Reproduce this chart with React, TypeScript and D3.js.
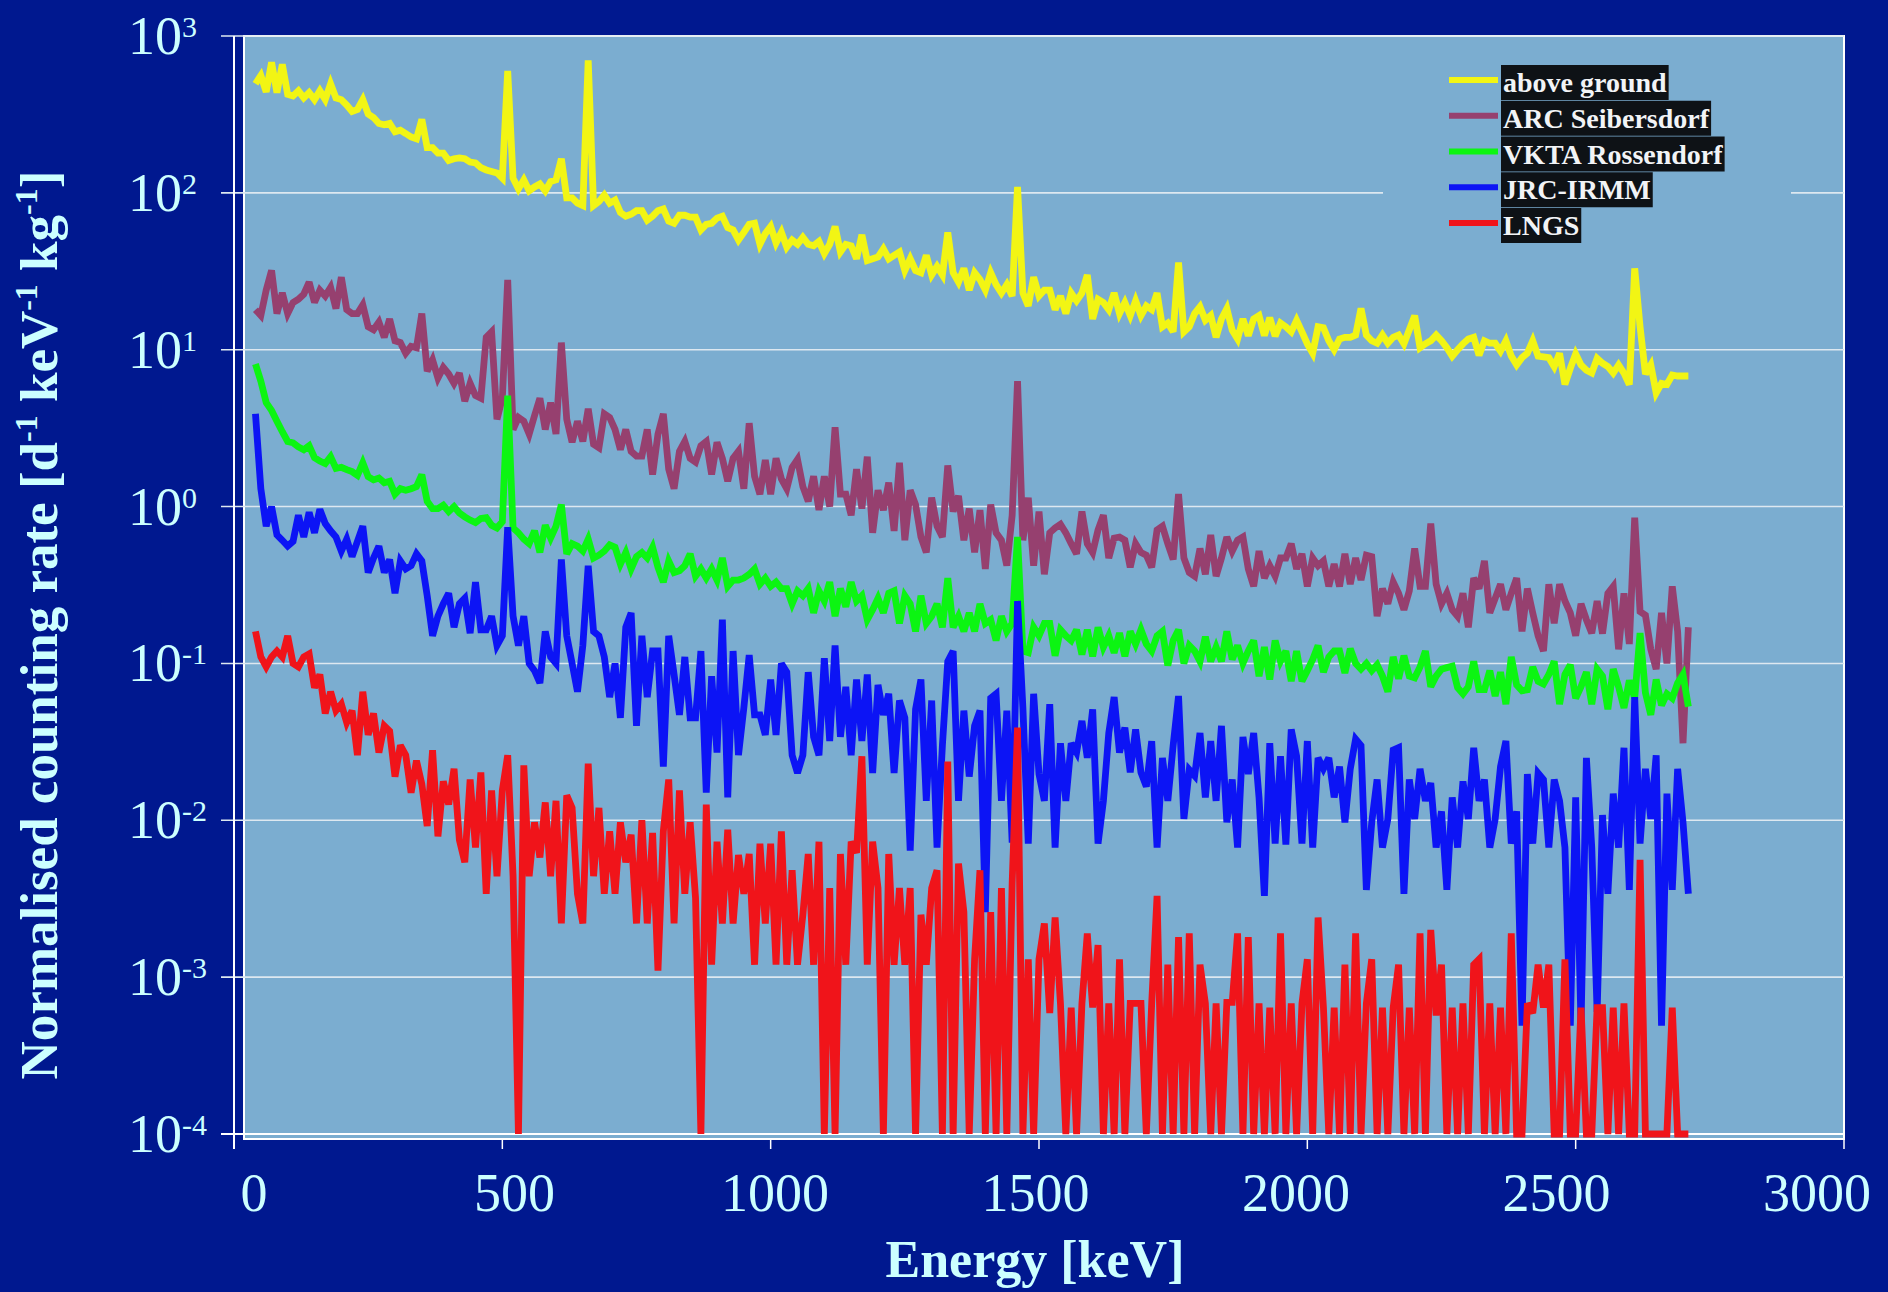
import { useLayoutEffect, useRef, useState } from 'react'
import * as d3 from 'd3'

const W = 1888
const H = 1292

// energy bins, keV (10 keV wide, 40 … 2710)
const energies = d3.range(40, 2711, 10)

const aboveGround = [
  496, 560, 440, 680, 436, 660,
  425, 415, 447, 403, 436, 393, 447, 393, 496, 403,
  393, 363, 330, 340, 393, 318, 302, 277, 272, 277,
  245, 251, 239, 227, 221, 294, 194, 194, 179, 179,
  161, 165, 167, 165, 157, 155, 145, 140, 137, 134,
  124, 600, 124, 106, 121, 103, 109, 114, 103, 118,
  121, 165, 93, 93, 86, 83, 700, 83, 88, 97,
  86, 90, 75, 71, 73, 77, 77, 67, 71, 77,
  79, 66, 64, 72, 72, 70, 70, 58, 63, 64,
  69, 71, 60, 58, 50, 56, 63, 64, 47, 55,
  61, 48, 56, 45, 50, 47, 52, 47, 46, 49,
  41, 47, 61, 42, 47, 46, 38, 54, 37, 38,
  39, 44, 38, 40, 42, 32, 38, 32, 31, 40,
  30, 34, 30, 56, 31, 27, 33, 24, 31, 28,
  24, 31, 26, 23, 26, 22, 109, 23, 19, 29,
  22, 24, 24, 18, 22, 17, 23, 20.5, 23, 30,
  15.7, 21, 20, 18, 23, 17, 20, 16.5, 20.5, 16.5,
  19, 18, 23, 14, 14.8, 13, 36, 13, 14, 17,
  18.8, 15.4, 16.5, 12, 15.7, 18.3, 13.3, 11.7, 15.7, 12.3,
  15.7, 16.5, 12.3, 16, 12.2, 14.8, 14, 13, 15.4, 13,
  10.9, 9.5, 14, 13.8, 11.4, 10, 11.7, 12, 12, 12.4,
  18.3, 12.4, 11.4, 11, 12.4, 11, 12, 12.4, 10.9, 13.4,
  16.5, 10.3, 10.9, 11.4, 12.4, 11.4, 10.3, 9.1, 10, 10.9,
  11.7, 12, 9.2, 11.4, 11, 11, 9.8, 11.4, 9.1, 8,
  8.9, 9.5, 11.4, 9.1, 9, 8.9, 7.8, 9.5, 6, 7.6,
  9.4, 8, 7.4, 7.1, 8.8, 8.2, 7.8, 7.1, 8, 7.1,
  6, 33, 14, 7, 8, 5.3, 6.1, 6, 6.9, 6.8,
  6.8, 6.8,
]

const arcSeibersdorf = [
  18, 16.5, 24, 32, 17, 23,
  17, 20, 21, 22.6, 27, 20, 24, 22, 25, 18.3,
  29, 18, 17, 17, 19.3, 14, 13.4, 15, 12, 15.7,
  11.4, 11.1, 9.5, 10.5, 10.3, 17, 7.3, 8.6, 6.6, 7.7,
  7, 6.1, 7.1, 4.7, 6.1, 5.1, 4.9, 12, 13, 3.6,
  4.9, 27.9, 3.1, 3.7, 3.5, 2.9, 3.8, 4.9, 3.1, 4.6,
  2.9, 11.1, 3.6, 2.57, 3.5, 2.6, 4.2, 2.5, 2.37, 3.9,
  3.7, 3.1, 2.31, 3.1, 2.25, 2.1, 2.1, 3.1, 1.6, 2.9,
  3.9, 1.73, 1.3, 2.25, 2.6, 2.03, 1.92, 2.44, 2.6, 1.6,
  2.57, 2.03, 1.45, 2.03, 2.25, 1.3, 3.4, 1.56, 1.2, 1.98,
  1.2, 2.03, 1.5, 1.3, 1.78, 2.0, 1.34, 1.08, 1.56, 0.95,
  1.56, 1.0, 3.2, 1.2, 1.2, 0.88, 1.73, 0.97, 2.08, 0.68,
  1.27, 0.95, 1.42, 0.7, 1.9, 0.61, 1.27, 1.03, 0.64, 0.51,
  1.14, 0.75, 0.64, 1.83, 0.93, 1.17, 0.61, 0.97, 0.51, 0.95,
  0.4, 1.03, 0.68, 0.61, 0.42, 0.88, 6.3, 0.61, 1.14, 0.42,
  0.93, 0.37, 0.68, 0.73, 0.77, 0.68, 0.58, 0.5, 0.93, 0.58,
  0.51, 0.71, 0.88, 0.47, 0.63, 0.64, 0.61, 0.41, 0.58, 0.51,
  0.49, 0.41, 0.71, 0.75, 0.58, 0.46, 1.2, 0.47, 0.38, 0.36,
  0.54, 0.37, 0.66, 0.36, 0.47, 0.64, 0.52, 0.61, 0.64, 0.4,
  0.31, 0.52, 0.35, 0.42, 0.36, 0.47, 0.47, 0.58, 0.4, 0.5,
  0.31, 0.47, 0.42, 0.45, 0.31, 0.43, 0.31, 0.5, 0.32, 0.47,
  0.34, 0.49, 0.48, 0.2, 0.3, 0.24, 0.33, 0.28, 0.22, 0.29,
  0.54, 0.31, 0.31, 0.78, 0.32, 0.24, 0.28, 0.22, 0.2, 0.28,
  0.17, 0.35, 0.3, 0.45, 0.21, 0.26, 0.32, 0.22, 0.28, 0.35,
  0.16, 0.3, 0.21, 0.15, 0.12, 0.32, 0.18, 0.32, 0.25, 0.21,
  0.15, 0.24, 0.19, 0.156, 0.25, 0.155, 0.28, 0.31, 0.123, 0.28,
  0.133, 0.85, 0.214, 0.203, 0.123, 0.092, 0.21, 0.1, 0.31, 0.16,
  0.031, 0.17,
]

const vktaRossendorf = [
  8.1, 6.3, 4.6, 4.1, 3.5, 3.0,
  2.6, 2.55, 2.4, 2.3, 2.44, 2.05, 1.95, 1.88, 2.08, 1.75,
  1.78, 1.72, 1.67, 1.58, 1.9, 1.55, 1.48, 1.52, 1.42, 1.45,
  1.2, 1.3, 1.27, 1.3, 1.34, 1.6, 1.08, 0.97, 0.97, 1.02,
  0.93, 1.0, 0.91, 0.86, 0.82, 0.79, 0.84, 0.85, 0.76, 0.73,
  0.8, 5.1, 0.73, 0.68, 0.62, 0.58, 0.7, 0.51, 0.76, 0.63,
  0.75, 1.03, 0.5, 0.58, 0.56, 0.52, 0.62, 0.47, 0.49, 0.52,
  0.57, 0.55, 0.43, 0.51, 0.4, 0.48, 0.51, 0.47, 0.55, 0.41,
  0.33, 0.45, 0.38, 0.39, 0.42, 0.5, 0.36, 0.4, 0.35, 0.4,
  0.34, 0.47, 0.31, 0.34, 0.34, 0.35, 0.37, 0.4, 0.32, 0.35,
  0.31, 0.33, 0.3, 0.3, 0.24, 0.29, 0.27, 0.3, 0.21, 0.29,
  0.25, 0.33, 0.2, 0.3, 0.23, 0.33, 0.25, 0.27, 0.19, 0.22,
  0.26, 0.21, 0.28, 0.29, 0.18, 0.27, 0.24, 0.16, 0.27, 0.18,
  0.2, 0.24, 0.17, 0.35, 0.17, 0.2, 0.16, 0.21, 0.16, 0.24,
  0.18, 0.19, 0.14, 0.2, 0.16, 0.18, 0.64, 0.12, 0.117, 0.17,
  0.15, 0.18, 0.18, 0.112, 0.164, 0.15, 0.14, 0.164, 0.114, 0.164,
  0.111, 0.17, 0.127, 0.15, 0.117, 0.156, 0.111, 0.16, 0.133, 0.164,
  0.133, 0.12, 0.15, 0.16, 0.097, 0.14, 0.164, 0.1, 0.13, 0.12,
  0.103, 0.148, 0.103, 0.127, 0.103, 0.16, 0.106, 0.13, 0.1, 0.12,
  0.14, 0.083, 0.127, 0.079, 0.14, 0.103, 0.12, 0.077, 0.12, 0.077,
  0.09, 0.106, 0.13, 0.088, 0.11, 0.12, 0.12, 0.087, 0.124, 0.1,
  0.092, 0.1, 0.09, 0.098, 0.083, 0.066, 0.11, 0.08, 0.112, 0.083,
  0.081, 0.095, 0.12, 0.071, 0.083, 0.092, 0.094, 0.096, 0.07, 0.064,
  0.071, 0.103, 0.068, 0.068, 0.09, 0.062, 0.088, 0.055, 0.11, 0.073,
  0.067, 0.068, 0.095, 0.077, 0.074, 0.085, 0.103, 0.055, 0.085, 0.098,
  0.06, 0.071, 0.088, 0.055, 0.092, 0.083, 0.051, 0.092, 0.071, 0.052,
  0.078, 0.06, 0.156, 0.065, 0.047, 0.079, 0.054, 0.064, 0.06, 0.075,
  0.085, 0.053,
]

const jrcIrmm = [
  3.9, 1.3, 0.75, 1.0, 0.66, 0.61,
  0.56, 0.6, 0.88, 0.64, 0.92, 0.68, 0.96, 0.78, 0.7, 0.64,
  0.52, 0.62, 0.48, 0.6, 0.75, 0.38, 0.47, 0.56, 0.38, 0.46,
  0.28, 0.45, 0.4, 0.42, 0.5, 0.45, 0.27, 0.15, 0.2, 0.24,
  0.28, 0.17, 0.24, 0.26, 0.156, 0.33, 0.164, 0.164, 0.2, 0.13,
  0.15, 0.74, 0.2, 0.13, 0.2, 0.1, 0.09, 0.075, 0.16, 0.11,
  0.1, 0.46, 0.15, 0.1, 0.066, 0.13, 0.42, 0.16, 0.15, 0.11,
  0.061, 0.1, 0.045, 0.17, 0.21, 0.04, 0.15, 0.061, 0.12, 0.12,
  0.022, 0.15, 0.085, 0.047, 0.11, 0.045, 0.045, 0.12, 0.015, 0.083,
  0.027, 0.19, 0.014, 0.12, 0.026, 0.052, 0.113, 0.047, 0.047, 0.035,
  0.079, 0.035, 0.1, 0.088, 0.026, 0.02, 0.026, 0.088, 0.034, 0.026,
  0.108, 0.032, 0.13, 0.034, 0.071, 0.026, 0.079, 0.032, 0.085, 0.02,
  0.073, 0.047, 0.064, 0.02, 0.058, 0.045, 0.0064, 0.051, 0.079, 0.0133,
  0.058, 0.0067, 0.03, 0.103, 0.12, 0.0133, 0.05, 0.019, 0.04, 0.05,
  0.0026, 0.06, 0.064, 0.0133, 0.05, 0.0072, 0.25, 0.052, 0.0071, 0.064,
  0.0197, 0.0133, 0.055, 0.0067, 0.031, 0.0133, 0.031, 0.027, 0.043, 0.025,
  0.051, 0.0071, 0.0133, 0.036, 0.061, 0.027, 0.039, 0.0202, 0.038, 0.0202,
  0.0164, 0.032, 0.0067, 0.025, 0.0133, 0.03, 0.062, 0.0102, 0.021, 0.0192,
  0.036, 0.014, 0.032, 0.0133, 0.04, 0.0097, 0.0182, 0.0067, 0.034, 0.0197,
  0.036, 0.014, 0.0033, 0.031, 0.0071, 0.0256, 0.007, 0.038, 0.0256, 0.0071,
  0.032, 0.0067, 0.025, 0.0213, 0.025, 0.014, 0.022, 0.0097, 0.0213, 0.033,
  0.03, 0.0036, 0.0097, 0.0182, 0.0067, 0.0102, 0.028, 0.029, 0.0034, 0.0182,
  0.0102, 0.0213, 0.0133, 0.0173, 0.0067, 0.0114, 0.0036, 0.014, 0.0067, 0.0177,
  0.0102, 0.029, 0.0133, 0.0182, 0.0067, 0.0102, 0.022, 0.032, 0.0071, 0.0114,
  0.00049, 0.0197, 0.0071, 0.02, 0.0182, 0.0067, 0.0182, 0.0133, 0.0067, 0.00049,
  0.014, 0.00049, 0.025, 0.0067, 0.0006, 0.0108, 0.0034, 0.0148, 0.0067, 0.029,
  0.0036, 0.061, 0.0071, 0.0213, 0.0102, 0.026, 0.00049, 0.0148, 0.0036, 0.0213,
  0.0097, 0.0034,
]

// zero-count bins sit on the 1e-4 axis floor
const lngs = [
  0.16, 0.11, 0.095, 0.11, 0.12, 0.11,
  0.15, 0.1, 0.095, 0.11, 0.115, 0.07, 0.085, 0.048, 0.066, 0.05,
  0.055, 0.042, 0.05, 0.026, 0.066, 0.035, 0.048, 0.027, 0.04, 0.037,
  0.019, 0.03, 0.026, 0.015, 0.024, 0.017, 0.0092, 0.028, 0.0079, 0.0177,
  0.0126, 0.0213, 0.0075, 0.0054, 0.0182, 0.0067, 0.0202, 0.0034, 0.0155, 0.0044,
  0.0155, 0.026, 0.0044, 0.0001, 0.0224, 0.0044, 0.0097, 0.0058, 0.013, 0.0044,
  0.0133, 0.0022, 0.0144, 0.012, 0.0034, 0.0022, 0.023, 0.0044, 0.012, 0.0034,
  0.0085, 0.0034, 0.0097, 0.0054, 0.0081, 0.0022, 0.01, 0.0022, 0.0083, 0.0011,
  0.0085, 0.0182, 0.0022, 0.0155, 0.0034, 0.0097, 0.0032, 0.0001, 0.0126, 0.0012,
  0.0073, 0.0022, 0.0087, 0.0022, 0.006, 0.0034, 0.0061, 0.0012, 0.0071, 0.0022,
  0.0071, 0.0012, 0.0085, 0.0012, 0.0048, 0.0012, 0.0025, 0.0061, 0.0012, 0.0073,
  0.0001, 0.0037, 0.0001, 0.0061, 0.0012, 0.0073, 0.0062, 0.0256, 0.0012, 0.0073,
  0.0037, 0.0001, 0.0061, 0.0012, 0.0037, 0.0012, 0.0037, 0.0001, 0.0025, 0.0012,
  0.0037, 0.0048, 0.0001, 0.0237, 0.0001, 0.0053, 0.0026, 0.0001, 0.0013, 0.0048,
  0.0001, 0.0026, 0.0001, 0.0037, 0.0001, 0.004, 0.039, 0.0001, 0.0013, 0.0001,
  0.0013, 0.0022, 0.00059, 0.0024, 0.00068, 0.0001, 0.00064, 0.0001, 0.00068, 0.0019,
  0.00064, 0.0016, 0.0001, 0.00068, 0.0001, 0.0013, 0.0001, 0.00068, 0.00068, 0.00068,
  0.0001, 0.00068, 0.0033, 0.0001, 0.0012, 0.0001, 0.0018, 0.0001, 0.0019, 0.0001,
  0.0012, 0.00068, 0.0001, 0.00068, 0.0001, 0.00069, 0.00069, 0.0019, 0.0001, 0.0018,
  0.0001, 0.00068, 0.0001, 0.00064, 0.0001, 0.0019, 0.0001, 0.00068, 0.0001, 0.00068,
  0.0013, 0.0001, 0.0024, 0.00064, 0.0001, 0.00064, 0.0001, 0.0012, 0.0001, 0.0019,
  0.0001, 0.00068, 0.0013, 0.0001, 0.00064, 0.0001, 0.00064, 0.0012, 0.0001, 0.00064,
  0.0001, 0.0019, 0.0001, 0.002, 0.00057, 0.0012, 0.0001, 0.00064, 0.0001, 0.00068,
  0.0001, 0.0012, 0.0013, 0.0001, 0.00068, 0.0001, 0.00064, 0.0001, 0.0019, 0.0001,
  0.0001, 0.00068, 0.00059, 0.0012, 0.00064, 0.0012, 0.0001, 0.0001, 0.0013, 0.0001,
  0.0001, 0.00064, 0.0001, 0.0001, 0.00064, 0.00064, 0.0001, 0.00064, 0.0001, 0.00068,
  0.0001, 0.0001, 0.0056, 0.0001, 0.0001, 0.0001, 0.0001, 0.0001, 0.00064, 0.0001,
  0.0001, 0.0001,
]

const seriesNames = ['above ground', 'ARC Seibersdorf', 'VKTA Rossendorf', 'JRC-IRMM', 'LNGS']
const seriesColors = ['#F2F514', '#96406F', '#0CF512', '#0C14F5', '#F0141A']
const seriesValues = [aboveGround, arcSeibersdorf, vktaRossendorf, jrcIrmm, lngs]

const xTicks = [0, 500, 1000, 1500, 2000, 2500, 3000]
const yExponents = [3, 2, 1, 0, -1, -2, -3, -4]

const NAVY = '#00188F'
const PLOT = '#7BADD0'
const LABEL = '#CCFFFF'
const GRID = '#DDE8F0'
const SERIF = "'Liberation Serif', 'Times New Roman', serif"

export default function App() {
  const textRefs = useRef<(SVGTextElement | null)[]>([])
  const [boxW, setBoxW] = useState<number[]>(seriesNames.map(() => 0))

  useLayoutEffect(() => {
    setBoxW(textRefs.current.map(t => (t ? t.getComputedTextLength() : 0)))
  }, [])

  const x = d3.scaleLinear().domain([0, 3000]).range([234, 1844])
  // the tick labels of the original sit on a slightly narrower span than the ticks
  const xLab = d3.scaleLinear().domain([0, 3000]).range([254, 1817])
  const y = d3.scaleLog().domain([1e-4, 1e3]).range([1134, 36])

  const line = d3.line<number>()
    .x((_, i) => x(energies[i]))
    .y(d => y(d))

  const legendY = d3.scaleLinear().domain([0, 4]).range([80, 223])

  return (
    <div style={{ position: 'absolute', left: 0, top: 0 }}>
      <svg width={W} height={H} style={{ display: 'block' }}>
        <rect x={0} y={0} width={W} height={H} fill={NAVY} />

        {/* plot area */}
        <rect x={244} y={36} width={1600} height={1103} fill={PLOT} stroke="#FFFFFF" strokeWidth={2} />

        {/* gridlines + y ticks */}
        {yExponents.map(e => (
          <line key={e} x1={221} x2={1844} y1={y(10 ** e)} y2={y(10 ** e)}
            stroke={e === -4 ? '#FFFFFF' : GRID} strokeWidth={e === -4 ? 2 : 1.6} />
        ))}

        {/* legend panel hides the grid behind it */}
        <rect x={1383} y={52} width={408} height={206} fill={PLOT} />

        {/* y axis */}
        <line x1={234} x2={234} y1={36} y2={1149} stroke="#FFFFFF" strokeWidth={2} />
        {xTicks.map(t => (
          <line key={t} x1={x(t)} x2={x(t)} y1={1139} y2={1149} stroke="#FFFFFF" strokeWidth={1.5} />
        ))}

        {/* series */}
        {seriesValues.map((vals, i) => (
          <path key={seriesNames[i]} d={line(vals) || ''} fill="none" stroke={seriesColors[i]}
            strokeWidth={6.8} strokeLinejoin="miter" strokeMiterlimit={3} />
        ))}

        {/* y tick labels */}
        {yExponents.map(e => (
          <text key={e} x={128} y={y(10 ** e) + 18} fill={LABEL} fontFamily={SERIF} fontSize={54}>
            10<tspan dy={-17} fontSize={30}>{String(e)}</tspan>
          </text>
        ))}

        {/* x tick labels */}
        {xTicks.map(t => (
          <text key={t} x={xLab(t)} y={1211} textAnchor="middle" fill={LABEL} fontFamily={SERIF} fontSize={54}>
            {t}
          </text>
        ))}

        {/* axis titles */}
        <text x={1035} y={1277} textAnchor="middle" fill={LABEL} fontFamily={SERIF} fontSize={52} fontWeight="bold">
          Energy [keV]
        </text>
        <text transform="translate(57,625) rotate(-90)" textAnchor="middle" fill={LABEL}
          fontFamily={SERIF} fontSize={53} fontWeight="bold">
          Normalised counting rate [d<tspan dy={-20} fontSize={32}>-1</tspan>
          <tspan dy={20}> keV</tspan><tspan dy={-20} fontSize={32}>-1</tspan>
          <tspan dy={20}> kg</tspan><tspan dy={-20} fontSize={32}>-1</tspan>
          <tspan dy={20}>]</tspan>
        </text>

        {/* legend */}
        {seriesNames.map((name, i) => {
          const ly = legendY(i)
          return (
            <g key={name}>
              <line x1={1449} x2={1498} y1={ly} y2={ly} stroke={seriesColors[i]} strokeWidth={6} />
              <rect x={1501} y={ly - 15} width={boxW[i] + 4} height={35} fill="#0E1216" />
              <text ref={el => { textRefs.current[i] = el }} x={1503} y={ly + 12}
                fill="#F2F4F6" fontFamily={SERIF} fontSize={28} fontWeight="bold">
                {name}
              </text>
            </g>
          )
        })}
      </svg>
    </div>
  )
}
